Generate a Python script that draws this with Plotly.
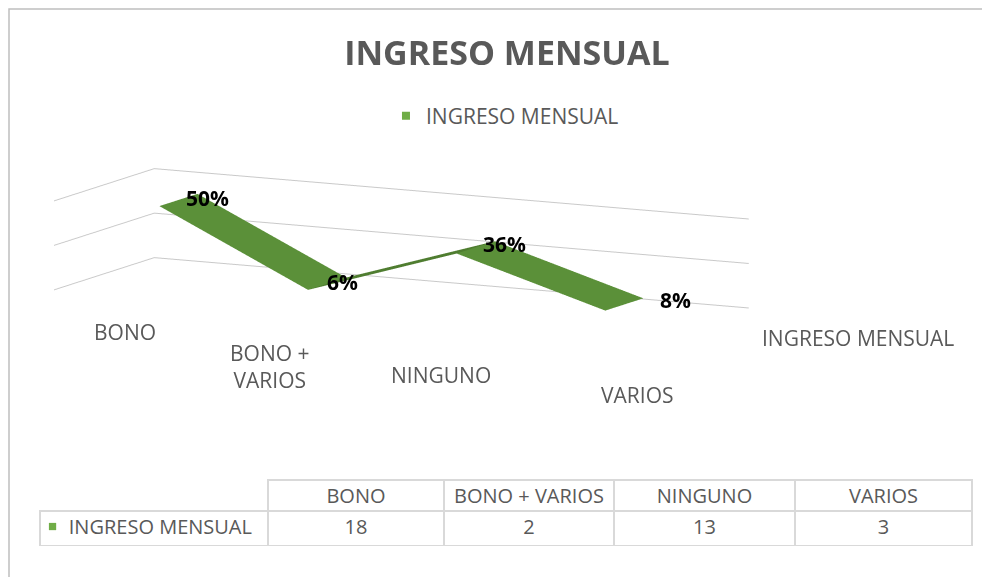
import plotly.graph_objects as go

# ---- data ----
categories = ["BONO", "BONO + VARIOS", "NINGUNO", "VARIOS"]
tick_labels = ["BONO", "BONO +<br>VARIOS", "NINGUNO", "VARIOS"]
series_name = "INGRESO MENSUAL"
values = [18, 2, 13, 3]
total = sum(values)
pct_labels = [f"{round(v / total * 100)}%" for v in values]

GRAY = "#595959"
GREEN = "#70AD47"
SEG_COLORS = ["#5B9039", "#4F7D30", "#5B9039"]
GRID = "#D9D9D9"
FONT = "Open Sans"
FS = 21

# ribbon depth (series axis position)
Y_FRONT, Y_BACK = 0.31, 0.69

xs, ys, zs = [], [], []
for i, v in enumerate(values):
    xs += [i, i]
    ys += [Y_FRONT, Y_BACK]
    zs += [v, v]
I, J, K, fc = [], [], [], []
for k in range(len(values) - 1):
    f0, b0, f1, b1 = 2 * k, 2 * k + 1, 2 * k + 2, 2 * k + 3
    I += [f0, f0]
    J += [f1, b1]
    K += [b1, b0]
    fc += [SEG_COLORS[k], SEG_COLORS[k]]

fig = go.Figure()
fig.add_trace(go.Mesh3d(
    x=xs, y=ys, z=zs, i=I, j=J, k=K, facecolor=fc, flatshading=True,
    lighting=dict(ambient=1, diffuse=0, specular=0, fresnel=0, roughness=1),
    hoverinfo="skip", showlegend=False, name=series_name, scene="scene",
))
# legend entry
fig.add_trace(go.Scatter3d(
    x=[None], y=[None], z=[None], mode="markers", name=series_name,
    marker=dict(symbol="square", size=8, color=GREEN), showlegend=True,
))

# data table
NB = "\u00a0"
header_vals = [""] + [c.replace(" ", NB) for c in categories]
cell_vals = [[NB * 4 + series_name.replace(" ", NB)]] + [[str(v)] for v in values]
fig.add_trace(go.Table(
    domain=dict(x=[32 / 990, 964 / 990], y=[1 - 538 / 577, 1 - 472 / 577]),
    columnwidth=[228, 176, 170, 181, 177],
    header=dict(values=header_vals, height=31, align="center",
                line=dict(color=GRID, width=[0, 1.5, 1.5, 1.5, 1.5]),
                fill=dict(color=["rgba(0,0,0,0)", "white", "white", "white", "white"]),
                font=dict(family=FONT, size=FS - 1, color=GRAY)),
    cells=dict(values=cell_vals, height=35,
               align=["left", "center", "center", "center", "center"],
               line=dict(color=GRID, width=1.5), fill=dict(color="white"),
               font=dict(family=FONT, size=FS - 1, color=GRAY)),
))

pct_shift = [(-14, -4), (-21, -4), (-14, -3), (15, -2)]
ann = [dict(x=i, y=Y_BACK, z=v, text=f"<b>{t}</b>", showarrow=False, xanchor="left",
            yanchor="middle", xshift=dx, yshift=dy, font=dict(family=FONT, size=FS, color="black"))
       for i, (v, t, (dx, dy)) in enumerate(zip(values, pct_labels, pct_shift))]
lab_shift = [(-3, -20), (-7, -28), (15, -38), (63, -45)]
ann += [dict(x=i, y=0, z=0, text=t, showarrow=False, xanchor="center", yanchor="top",
             xshift=dx, yshift=dy, font=dict(family=FONT, size=FS, color=GRAY))
        for i, (t, (dx, dy)) in enumerate(zip(tick_labels, lab_shift))]
ann.append(dict(x=3.5, y=0.5, z=0, text=series_name, showarrow=False, xanchor="left",
                yanchor="middle", xshift=61, yshift=-14, font=dict(family=FONT, size=FS, color=GRAY)))

dirv = (0.45, -0.877, 0.165)
kd = 2.0
cen = (0.722, 0.305, -0.33)
axis_common = dict(showbackground=False, zeroline=False, showline=False, showspikes=False,
                   ticks="", title=dict(text=""), showticklabels=False)
fig.update_layout(
    width=990, height=577, margin=dict(l=0, r=0, t=0, b=0),
    paper_bgcolor="white", font=dict(family=FONT, color=GRAY),
    title=dict(text="<b>INGRESO MENSUAL</b>", x=0.504, xanchor="center", y=1 - 45 / 577,
               yanchor="middle", font=dict(family=FONT, size=34, color=GRAY)),
    legend=dict(orientation="h", x=0.502, xanchor="center", y=1 - 108 / 577, yanchor="middle",
                font=dict(family=FONT, size=FS, color=GRAY)),
    scene=dict(
        domain=dict(x=[0, 1], y=[1 - 420 / 577, 1 - 160 / 577]),
        aspectmode="manual", aspectratio=dict(x=5.14, y=1.69, z=0.694),
        camera=dict(projection=dict(type="orthographic"),
                    eye=dict(x=cen[0] + dirv[0] * kd, y=cen[1] + dirv[1] * kd, z=cen[2] + dirv[2] * kd),
                    center=dict(x=cen[0], y=cen[1], z=cen[2]), up=dict(x=0, y=0, z=1)),
        xaxis=dict(range=[-0.5, 3.5], showgrid=False, **axis_common),
        yaxis=dict(range=[0, 1], showgrid=False, **axis_common),
        zaxis=dict(range=[0, 20], dtick=10, showgrid=True, gridcolor="#C9C9C9", gridwidth=2,
                   **axis_common),
        annotations=ann,
    ),
    annotations=[dict(text="■", x=38 / 990, y=1 - 529 / 577, xref="paper", yref="paper",
                      showarrow=False, font=dict(size=15, color=GREEN))],
    shapes=[dict(type="rect", xref="paper", yref="paper", x0=1 / 990, x1=1.02, y0=-0.02,
                 y1=1 - 1 / 577, line=dict(color="#BFBFBF", width=1.5), layer="below")],
)
fig.write_html("out.html", config=dict(displayModeBar=False))
